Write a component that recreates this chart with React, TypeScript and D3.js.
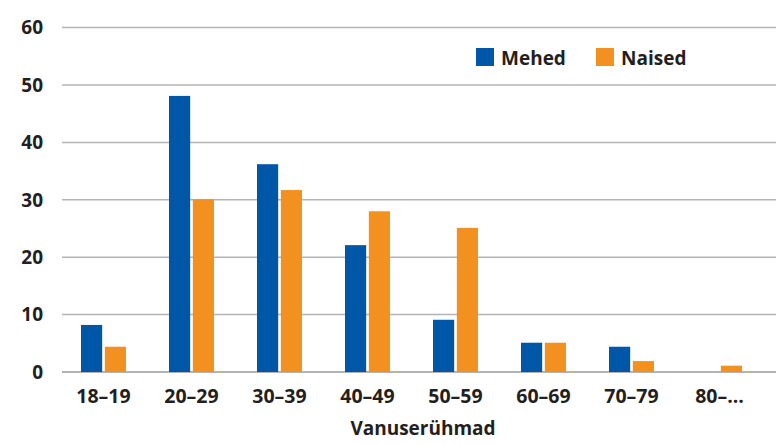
import React, { useEffect, useRef } from 'react';
import * as d3 from 'd3';

const categories = ['18–19', '20–29', '30–39', '40–49', '50–59', '60–69', '70–79', '80–...'];
const mehed = [8.2, 48.1, 36.2, 22.1, 9.1, 5.1, 4.4, 0];
const naised = [4.4, 30.1, 31.7, 28.0, 25.1, 5.1, 1.9, 1.1];
const seriesNames = ['Mehed', 'Naised'];
const seriesColors = ['#0057a8', '#f39120'];
const yTicks = [0, 10, 20, 30, 40, 50, 60];

const App: React.FC = () => {
  const svgRef = useRef<SVGSVGElement>(null);
  const width = 776;
  const height = 445;

  useEffect(() => {
    if (!svgRef.current) return;
    const svg = d3.select(svgRef.current);
    svg.selectAll('*').remove();

    const font = '"Open Sans", sans-serif';
    const textColor = '#231f20';

    const x = d3.scaleBand<string>()
      .domain(categories)
      .range([59.5, 763.5]);
    const xInner = d3.scaleBand<string>()
      .domain(seriesNames)
      .range([0, 45])
      .paddingInner(0.111);
    const y = d3.scaleLinear().domain([0, 60]).range([372, 27.6]);

    // gridlines
    svg.append('g')
      .selectAll('line')
      .data(yTicks)
      .join('line')
      .attr('x1', 62)
      .attr('x2', width)
      .attr('y1', d => y(d))
      .attr('y2', d => y(d))
      .attr('stroke', d => (d === 0 ? '#9a9a9a' : '#b4b4b4'))
      .attr('stroke-width', 1.5);

    // y labels
    svg.append('g')
      .selectAll('text')
      .data(yTicks)
      .join('text')
      .attr('x', 43)
      .attr('y', d => y(d))
      .attr('dy', '0.36em')
      .attr('text-anchor', 'end')
      .attr('font-family', font)
      .attr('font-weight', 700)
      .attr('font-size', '19px')
      .attr('fill', textColor)
      .text(d => d);

    // bars
    const groups = svg.append('g')
      .selectAll('g')
      .data(categories)
      .join('g')
      .attr('transform', d => `translate(${(x(d) ?? 0) + (x.bandwidth() - 45) / 2},0)`);

    groups.selectAll('rect')
      .data((d, i) => [mehed[i], naised[i]].map((v, j) => ({ v, s: seriesNames[j], c: seriesColors[j] })))
      .join('rect')
      .attr('x', d => xInner(d.s) ?? 0)
      .attr('width', xInner.bandwidth())
      .attr('y', d => y(d.v))
      .attr('height', d => y(0) - y(d.v))
      .attr('fill', d => d.c);

    // x labels
    svg.append('g')
      .selectAll('text')
      .data(categories)
      .join('text')
      .attr('x', d => (x(d) ?? 0) + x.bandwidth() / 2)
      .attr('y', 403)
      .attr('text-anchor', 'middle')
      .attr('font-family', font)
      .attr('font-weight', 700)
      .attr('font-size', '19.5px')
      .attr('fill', textColor)
      .text(d => d);

    // axis title
    svg.append('text')
      .attr('x', 423)
      .attr('y', 435)
      .attr('text-anchor', 'middle')
      .attr('font-family', font)
      .attr('font-weight', 700)
      .attr('font-size', '19px')
      .attr('fill', textColor)
      .text('Vanuserühmad');

    // legend
    const legendX = [476, 596];
    seriesNames.forEach((name, i) => {
      svg.append('rect')
        .attr('x', legendX[i])
        .attr('y', 48)
        .attr('width', 18)
        .attr('height', 18)
        .attr('fill', seriesColors[i]);
      svg.append('text')
        .attr('x', legendX[i] + 25)
        .attr('y', 65)
        .attr('font-family', font)
        .attr('font-weight', 700)
        .attr('font-size', '19px')
        .attr('fill', textColor)
        .text(name);
    });
  }, []);

  return (
    <svg
      ref={svgRef}
      width={width}
      height={height}
      style={{ position: 'absolute', left: 0, top: 0, background: '#fff' }}
    />
  );
};

export default App;
